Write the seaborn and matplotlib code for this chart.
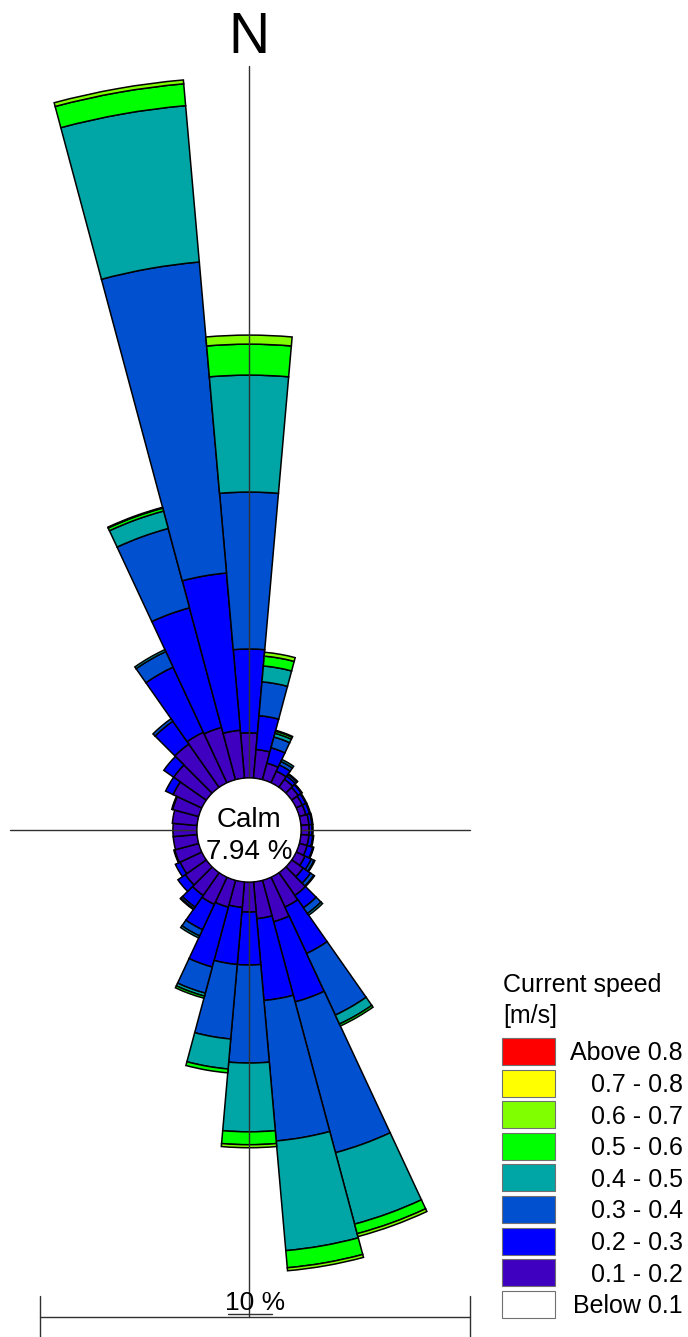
import numpy as np
import pandas as pd
import matplotlib
matplotlib.use("Agg")
import matplotlib.pyplot as plt
from matplotlib.patches import Rectangle, Circle
import seaborn as sns

# ---- data: frequency of occurrence (%) per 10-degree direction sector ----
directions = np.arange(0, 360, 10)

class_labels = ["Below 0.1", "0.1 - 0.2", "0.2 - 0.3", "0.3 - 0.4", "0.4 - 0.5",
                "0.5 - 0.6", "0.6 - 0.7", "0.7 - 0.8", "Above 0.8"]
class_colors = ["#FFFFFF", "#4000C0", "#0000FF", "#0050D0", "#00A6A6",
                "#00FF00", "#80FF00", "#FFFF00", "#FF0000"]

calm_pct = 7.94

below_01 = [0.0] * 36
spd_01_02 = [1.05, 0.67, 0.40, 0.30, 0.23, 0.19, 0.16, 0.16, 0.19, 0.19, 0.19, 0.19,
             0.23, 0.33, 0.65, 0.77, 1.00, 0.86, 0.70, 0.60, 0.65, 0.70, 0.65, 0.60,
             0.56, 0.58, 0.56, 0.56, 0.58, 0.63, 0.74, 0.93, 1.23, 1.30, 1.26, 1.12]
spd_02_03 = [1.95, 0.79, 0.37, 0.16, 0.09, 0.09, 0.09, 0.09, 0.07, 0.07, 0.09, 0.14,
             0.16, 0.21, 0.35, 1.19, 1.93, 1.91, 1.23, 1.33, 1.44, 0.65, 0.33, 0.21,
             0.12, 0.02, 0.00, 0.00, 0.00, 0.02, 0.19, 0.28, 0.65, 1.67, 2.88, 3.67]
spd_03_04 = [3.65, 0.79, 0.26, 0.09, 0.05, 0.02, 0.02, 0.02, 0.02, 0.02, 0.02, 0.02,
             0.07, 0.09, 0.16, 1.58, 3.63, 3.28, 2.28, 1.74, 0.63, 0.16, 0.05, 0.00,
             0.00, 0.00, 0.00, 0.00, 0.00, 0.00, 0.00, 0.00, 0.07, 0.40, 1.91, 7.26]
spd_04_05 = [2.72, 0.37, 0.09, 0.05, 0.02, 0.00, 0.00, 0.00, 0.00, 0.00, 0.00, 0.00,
             0.02, 0.02, 0.05, 0.23, 1.72, 2.56, 1.60, 0.70, 0.07, 0.05, 0.02, 0.00,
             0.00, 0.00, 0.00, 0.00, 0.00, 0.00, 0.00, 0.00, 0.00, 0.05, 0.42, 3.65]
spd_05_06 = [0.72, 0.23, 0.05, 0.00, 0.00, 0.00, 0.00, 0.00, 0.00, 0.00, 0.00, 0.00,
             0.00, 0.00, 0.00, 0.05, 0.23, 0.40, 0.30, 0.09, 0.05, 0.00, 0.00, 0.00,
             0.00, 0.00, 0.00, 0.00, 0.00, 0.00, 0.00, 0.00, 0.00, 0.00, 0.07, 0.51]
spd_06_07 = [0.21, 0.09, 0.02, 0.00, 0.00, 0.00, 0.00, 0.00, 0.00, 0.00, 0.00, 0.00,
             0.00, 0.00, 0.00, 0.00, 0.07, 0.07, 0.07, 0.00, 0.00, 0.00, 0.00, 0.00,
             0.00, 0.00, 0.00, 0.00, 0.00, 0.00, 0.00, 0.00, 0.00, 0.00, 0.02, 0.09]
spd_07_08 = [0.0] * 36
above_08 = [0.0] * 36

class_values = [below_01, spd_01_02, spd_02_03, spd_03_04, spd_04_05,
                spd_05_06, spd_06_07, spd_07_08, above_08]

freq = pd.DataFrame({lab: vals for lab, vals in zip(class_labels, class_values)},
                    index=directions)

# ---- figure geometry (pixels) ----
W, H, DPI = 688, 1337, 100
cx, cy = 249, 830          # rose centre
px_per_pct = 43.0          # radial scale
hole_px = 52.0             # radius of the calm circle
R_ax = 800.0               # radius of the polar axes

sns.set_theme(style="white", rc={"text.color": "black"})
plt.rcParams["font.family"] = ["Liberation Sans", "DejaVu Sans"]

fig = plt.figure(figsize=(W / DPI, H / DPI), dpi=DPI)
fig.patch.set_facecolor("white")

ax = fig.add_axes([(cx - R_ax) / W, (H - cy - R_ax) / H, 2 * R_ax / W, 2 * R_ax / H],
                  projection="polar")
ax.set_theta_zero_location("N")
ax.set_theta_direction(-1)
hole = hole_px / px_per_pct
ax.set_rorigin(-hole)
ax.set_ylim(0, R_ax / px_per_pct - hole)
ax.set_axis_off()

theta = np.deg2rad(freq.index.values)
width = np.deg2rad(10)
base = np.zeros(len(freq))
for lab, col in zip(class_labels, class_colors):
    vals = freq[lab].values
    m = vals > 0
    if m.any():
        ax.bar(theta[m], vals[m], width=width, bottom=base[m], color=col,
               edgecolor="black", linewidth=1.1, align="center")
    base = base + vals

# ---- overlay in pixel coordinates: axes cross, calm circle, scale, legend ----
ov = fig.add_axes([0, 0, 1, 1], zorder=5)
ov.set_xlim(0, W)
ov.set_ylim(H, 0)
ov.set_axis_off()
ov.patch.set_alpha(0)

line_kw = dict(color="#303030", linewidth=1.0)
ov.plot([cx, cx], [66, 1317], **line_kw)
ov.plot([10, 470], [cy, cy], **line_kw)

ov.add_patch(Circle((cx, cy), hole_px, facecolor="white", edgecolor="black",
                    linewidth=0.9, zorder=6))
ov.text(cx, cy - 3, "Calm", ha="center", va="baseline", fontsize=20, color="black", zorder=7)
ov.text(cx, cy + 29, f"{calm_pct:.2f} %", ha="center", va="baseline", fontsize=20,
        color="black", zorder=7)

ov.text(cx, 53, "N", ha="center", va="baseline", fontsize=41, color="black")

# scale bar (10 %)
sb_left = 40
sb_right = sb_left + 10 * px_per_pct
sb_y = 1317
ov.plot([sb_left, sb_right], [sb_y, sb_y], **line_kw)
ov.plot([sb_left, sb_left], [1296, H], **line_kw)
ov.plot([sb_right, sb_right], [1296, H], **line_kw)
ov.plot([228, 272], [1314, 1314], **line_kw)
ov.text(255, 1310, "10 %", ha="center", va="baseline", fontsize=19, color="black")

# legend
ov.text(503, 992, "Current speed", ha="left", va="baseline", fontsize=18, color="black")
ov.text(503, 1023, "[m/s]", ha="left", va="baseline", fontsize=18, color="black")
box_top0, box_step, box_h = 1038, 31.6, 27
for i, (lab, col) in enumerate(zip(class_labels[::-1], class_colors[::-1])):
    top = box_top0 + i * box_step
    ov.add_patch(Rectangle((502, top), 53, box_h, facecolor=col,
                           edgecolor="#707070", linewidth=0.8))
    ov.text(683, top + box_h / 2 + 9, lab, ha="right", va="baseline", fontsize=18,
            color="black")

fig.savefig("out.png", dpi=DPI, facecolor="white")
